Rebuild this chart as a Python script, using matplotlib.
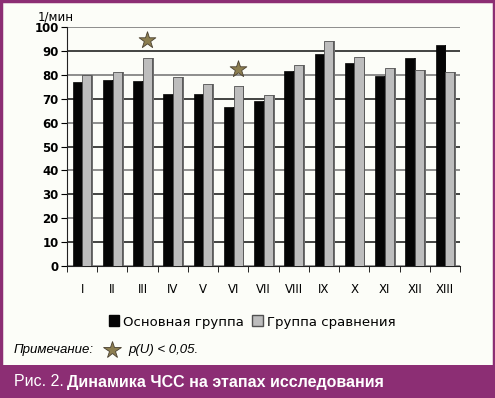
import matplotlib.pyplot as plt
import numpy as np
from matplotlib.patches import Rectangle, Patch
from matplotlib.lines import Line2D

# data
stages = ['I', 'II', 'III', 'IV', 'V', 'VI', 'VII', 'VIII', 'IX', 'X', 'XI', 'XII', 'XIII']
main_group = [77, 78, 77.5, 72, 72, 66.5, 69, 81.5, 88.5, 85, 79.5, 87, 92.5]
compare_group = [80, 81, 87, 79, 76, 75.5, 71.5, 84, 94, 87.5, 83, 82, 81]
star_stages = [2, 5]
star_values = [94.5, 82.5]

purple = '#8c2e74'
bg = '#fcfdf8'


def main():
    fig = plt.figure(figsize=(4.95, 3.98), dpi=100, facecolor=bg)
    ax = fig.add_axes([67 / 495, 1 - 266 / 398, (460 - 67) / 495, (266 - 27) / 398])
    ax.set_facecolor(bg)

    x = np.arange(len(stages))
    w = 0.3
    # side faces for a bit of the 3D look
    ax.bar(x - 0.16 + w / 2 + 0.03, main_group, width=0.06, color='#303030', zorder=2)
    ax.bar(x + 0.16 + w / 2 + 0.03, compare_group, width=0.06, color='#6e6e6e', zorder=2)
    ax.bar(x - 0.16, main_group, width=w, color='#050505', edgecolor='#050505', linewidth=0.5, zorder=3)
    ax.bar(x + 0.16, compare_group, width=w, color='#bdbdbd', edgecolor='#505050', linewidth=0.6, zorder=3)

    # grid lines, alternating dark and grey
    for v in range(10, 101, 10):
        col = '#111111' if (v // 10) % 2 == 1 else '#707070'
        ax.axhline(v, color=col, linewidth=1.1, zorder=1)
    ax.axhline(0, color='#909090', linewidth=2, zorder=1)

    ax.scatter([x[i] + 0.16 for i in star_stages], star_values, marker='*', s=160,
               color='#8c7e50', edgecolor='#4a4030', linewidth=0.6, zorder=4, clip_on=False)

    ax.set_xlim(-0.5, len(stages) - 0.5)
    ax.set_ylim(0, 100)
    ax.set_yticks(range(0, 101, 10))
    ax.set_yticklabels([str(v) for v in range(0, 101, 10)], fontsize=8.5, fontweight='bold')
    ax.set_xticks(x)
    ax.set_xticklabels(stages, fontsize=8.5)
    ax.set_xticks(np.arange(-0.5, len(stages), 1), minor=True)
    ax.tick_params(axis='x', which='major', length=0, pad=12)
    ax.tick_params(axis='x', which='minor', length=4, direction='out')
    ax.tick_params(axis='y', length=4, direction='out', pad=2)
    for s in ['top', 'right']:
        ax.spines[s].set_visible(False)
    ax.spines['left'].set_color('#222222')
    ax.spines['bottom'].set_color('#222222')

    fig.text(38 / 495, 1 - 17 / 398, '1/мин', fontsize=8.5, va='center', ha='left')

    handles = [Patch(facecolor='#050505', edgecolor='#050505'),
               Patch(facecolor='#bdbdbd', edgecolor='#505050')]
    fig.legend(handles, ['Основная группа', 'Группа сравнения'], loc='center',
               bbox_to_anchor=(252 / 495, 1 - 322 / 398), ncol=2, frameon=False,
               fontsize=9.5, handlelength=0.8, handleheight=0.9, handletextpad=0.3,
               columnspacing=0.6)

    # note line
    note_y = 1 - 350 / 398
    fig.text(14 / 495, note_y, 'Примечание:', fontsize=9.5, style='italic',
             family=['Liberation Sans Narrow', 'Liberation Sans'], va='center')
    fig.add_artist(Line2D([112 / 495], [note_y], marker='*', markersize=13,
                          color='#8c7e50', markeredgecolor='#4a4030', markeredgewidth=0.6,
                          transform=fig.transFigure))
    fig.text(128 / 495, note_y, 'p(U) < 0,05.', fontsize=9.5, style='italic',
             family=['Liberation Sans Narrow', 'Liberation Sans'], va='center')

    # caption band and border
    fig.add_artist(Rectangle((0, 0), 1, 33 / 398, transform=fig.transFigure,
                             facecolor=purple, edgecolor='none'))
    fig.add_artist(Rectangle((0.002, 0.002), 0.995, 0.995, transform=fig.transFigure,
                             facecolor='none', edgecolor=purple, linewidth=2.5))
    cap_y = 1 - 382 / 398
    fig.text(14 / 495, cap_y, 'Рис. 2.', color='white', fontsize=11.5,
             family=['Liberation Sans Narrow', 'Liberation Sans'], va='center')
    fig.text(67 / 495, cap_y, 'Динамика ЧСС на этапах исследования', color='white',
             fontsize=11.5, fontweight='bold',
             family=['Liberation Sans Narrow', 'Liberation Sans'], va='center')

    fig.savefig('out.png', dpi=100, facecolor=bg)


if __name__ == "__main__":
    main()
